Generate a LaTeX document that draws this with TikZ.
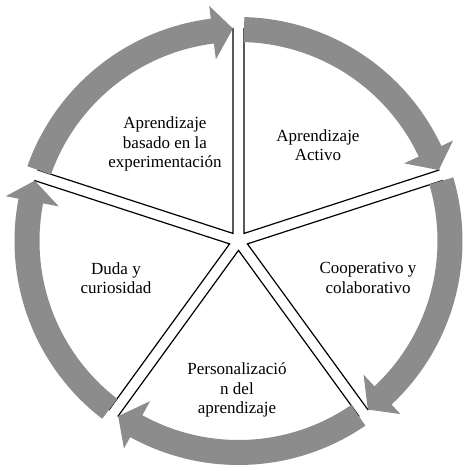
\documentclass[tikz,border=0pt]{standalone}
\usepackage{fontspec}
\setmainfont{Liberation Serif}
\definecolor{ringgray}{RGB}{140,140,140}
\tikzset{
  segline/.style={draw=black, fill=white, line width=1.2pt, line join=miter},
  ringfill/.style={fill=ringgray},
  segtext/.style={align=center, font=\fontsize{17}{19.5}\selectfont, inner sep=0pt}
}
% #1 upper gap angle, #2 lower gap angle
\newcommand\pieseg[2]{%
  \filldraw[segline] ({(#1+#2)/2}:9.36) -- ({#1-1.49}:212.5)
    arc[start angle={#1-1.49}, end angle={#2+1.49}, radius=212.5] -- cycle;}
% #1 start angle, #2 tip angle (clockwise)
\newcommand\ringarrow[2]{%
  \fill[ringfill] ({#1}:224) arc[start angle={#1}, end angle={#2+5.6}, radius=224]
    -- ({#2+5.6}:237) -- ({#2}:212.5) -- ({#2+5.6}:183) -- ({#2+5.6}:199)
    arc[start angle={#2+5.6}, end angle={#1}, radius=199] -- cycle;}
\begin{document}
\begin{tikzpicture}[x=1pt,y=1pt]
\useasboundingbox (-238.5,-230) rectangle (228.5,241);
% segments
\pieseg{90}{18}
\pieseg{18}{-54}
\pieseg{-54}{-126}
\pieseg{-126}{-198}
\pieseg{162}{90}
% ring arrows
\ringarrow{88.5}{19.5}
\ringarrow{16.5}{-52.5}
\ringarrow{-55.5}{-124.5}
\ringarrow{-127.5}{-196.5}
\ringarrow{-199.5}{-268.5}
% texts
\node[segtext] (exp) at (-73.5,97) {Aprendizaje\\basado en la\\experimentación};
\node[segtext] (act) at (79.5,96) {Aprendizaje\\Activo};
\node[segtext] (coop) at (129.5,-37) {Cooperativo y\\colaborativo};
\node[segtext] (pers) at (-1.5,-149) {Personalizació\\n del\\aprendizaje};
\node[segtext] (duda) at (-122.5,-37) {Duda y\\curiosidad};
\end{tikzpicture}
\end{document}
